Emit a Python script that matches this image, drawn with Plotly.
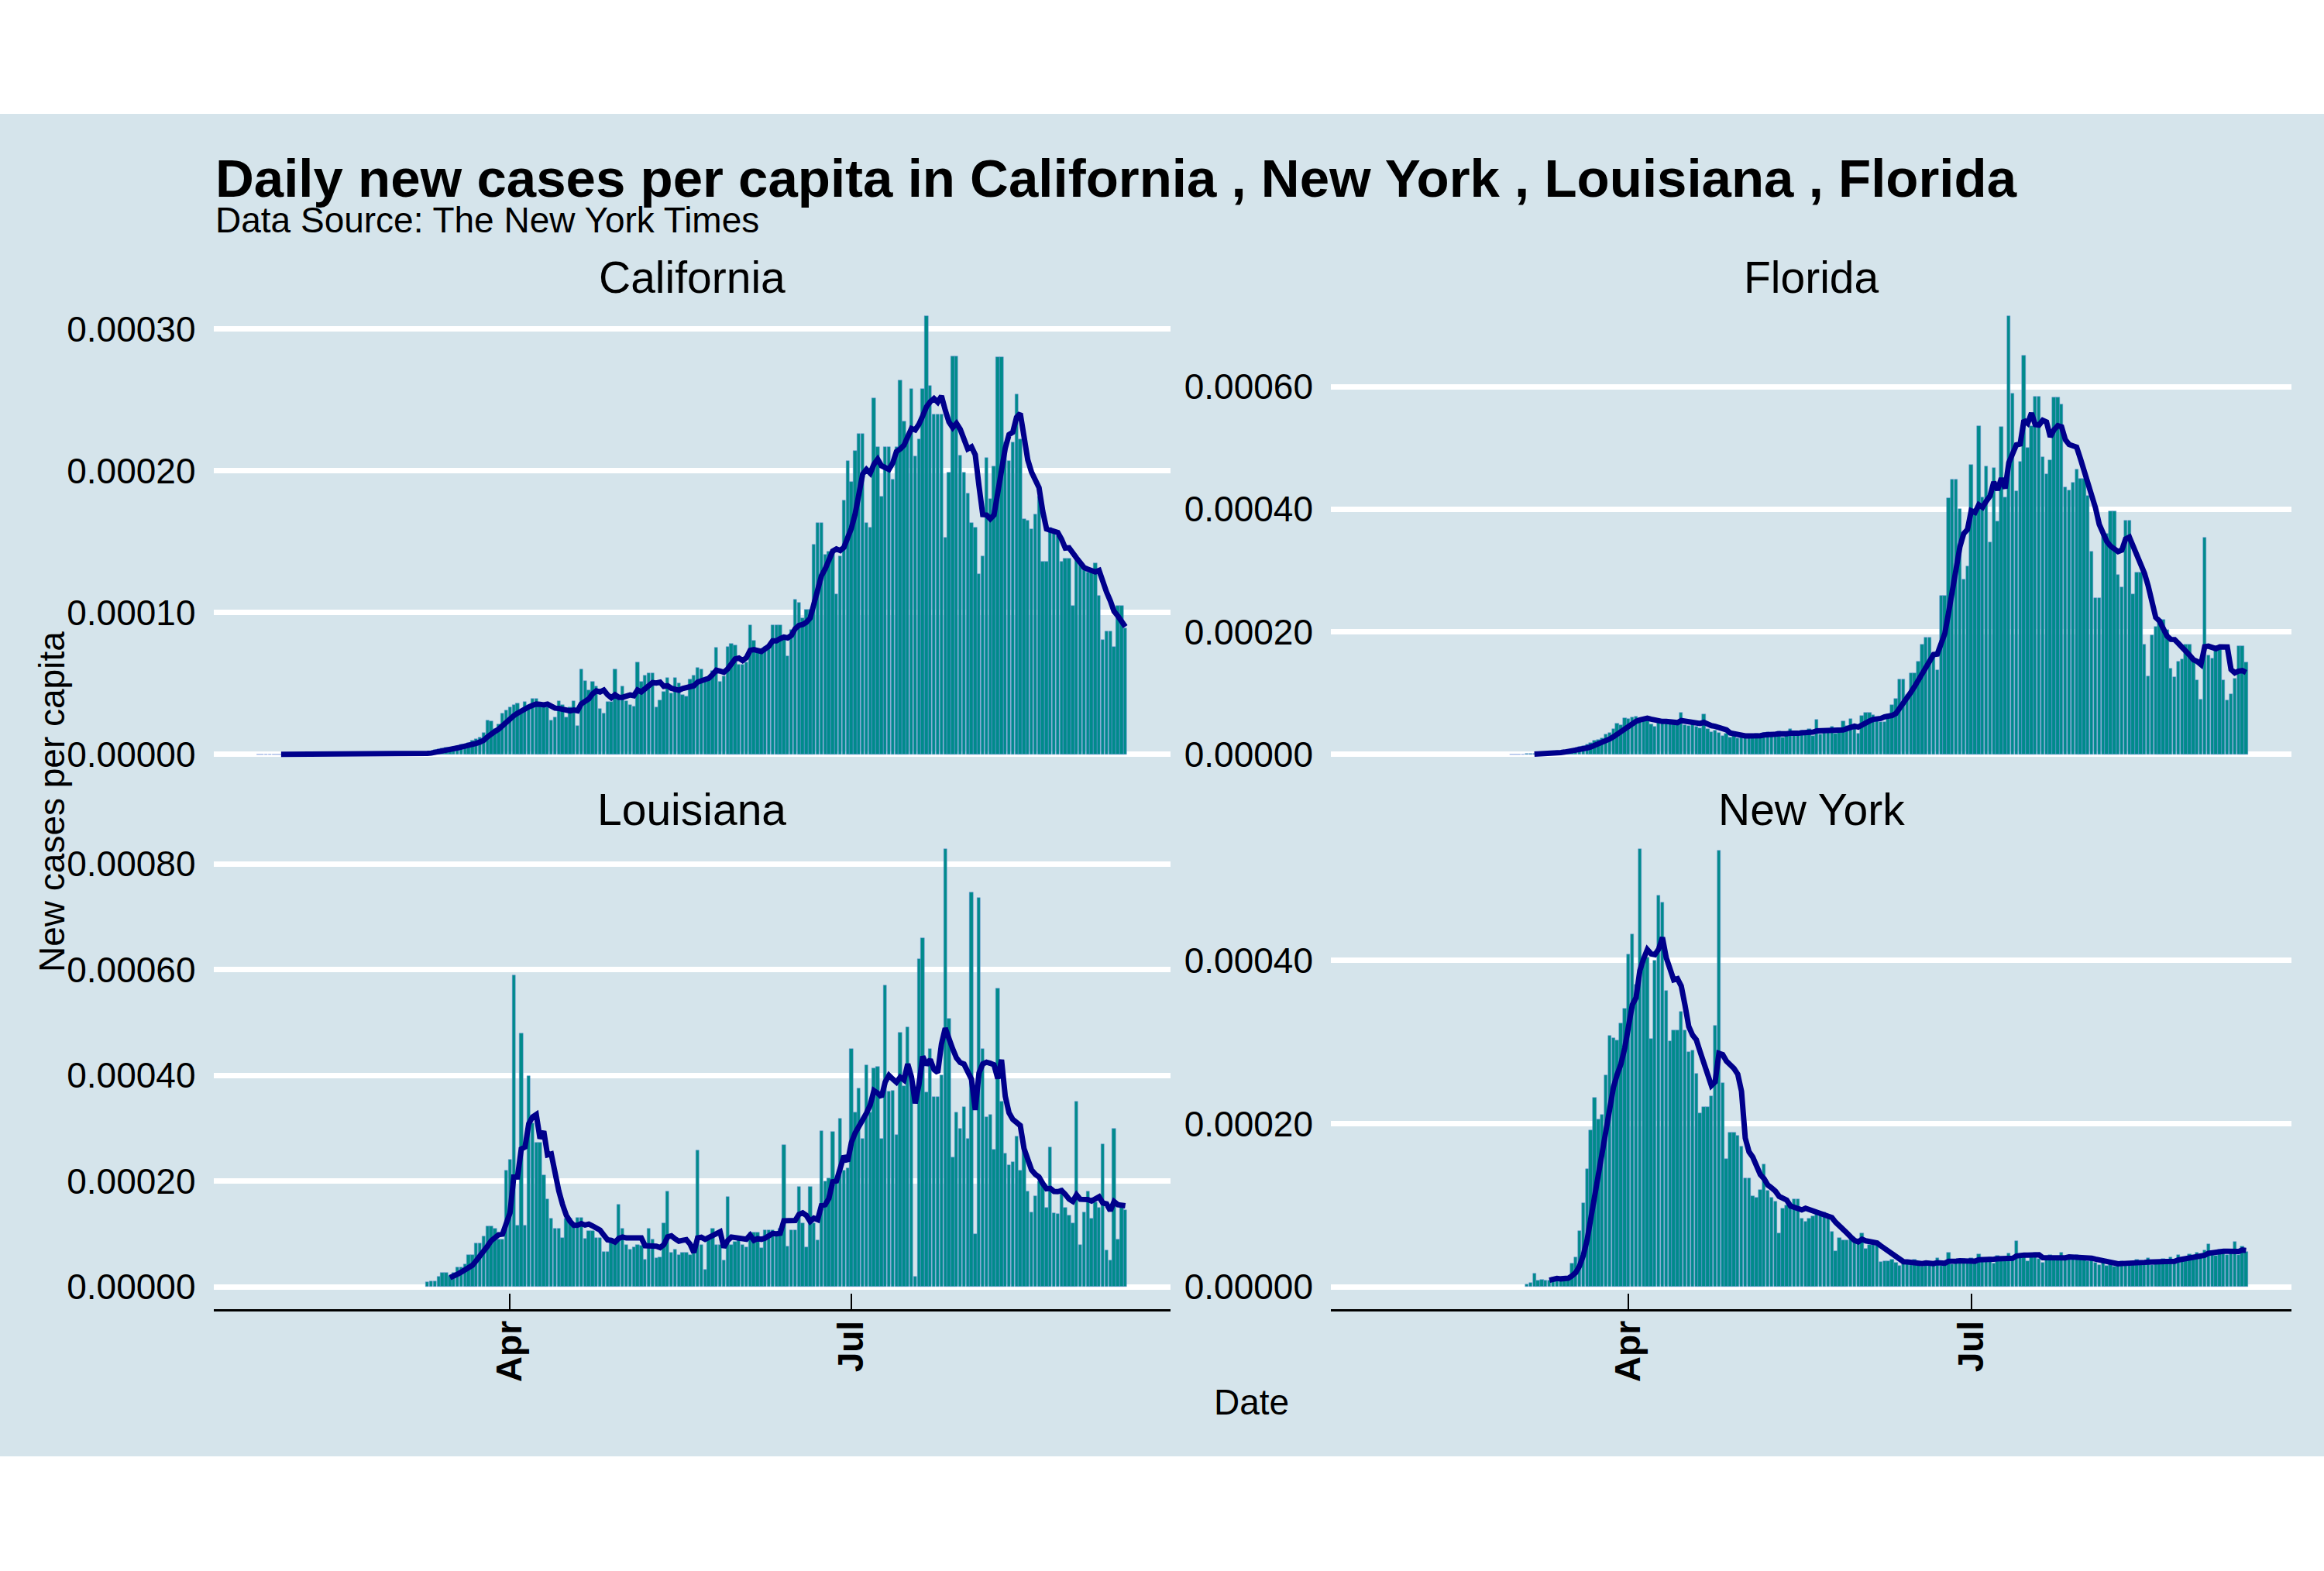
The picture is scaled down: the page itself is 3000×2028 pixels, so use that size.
import numpy as np
import pandas as pd
import plotly.graph_objects as go
from plotly.subplots import make_subplots

# ---------------- data (daily new cases per 100k people) ----------------
ca_start = "2020-01-25"
ca_per_100k = [
    0.003, 0, 0, 0, 0, 0.003, 0, 0, 0, 0,
    0, 0, 0, 0.003, 0, 0, 0, 0, 0, 0.003,
    0, 0, 0, 0, 0, 0, 0, 0, 0.003, 0,
    0.005, 0, 0.003, 0.008, 0.01, 0.005, 0.013, 0.02, 0.018, 0.025,
    0.03, 0.04, 0.05,
    0.07, 0.1, 0.13, 0.2, 0.3, 0.35, 0.4, 0.45, 0.5, 0.55,
    0.6, 0.7, 0.7, 0.8, 0.95, 1.1, 1.2, 1.5, 2.4, 2.35,
    1.8, 2.1, 2.9, 3.1, 3.3, 3.5, 3.6, 2.9, 3.7, 3.3,
    3.9, 3.9, 3.4, 3.3, 3.3, 2.4, 2.6, 3.75, 3.5, 2.6,
    3.3, 3.75, 2.0, 6.0, 5.2, 4.5, 5.1, 4.8, 3.2, 2.9,
    3.7, 3.7, 6.0, 3.85, 4.8, 3.75, 3.5, 3.35, 6.5, 5.1,
    5.55, 5.7, 5.7, 3.3, 3.8, 4.4, 5.4, 4.3, 5.4, 5.0,
    4.2, 4.1, 5.3, 5.55, 6.1, 6.0, 5.1, 5.4, 5.9, 7.5,
    5.1, 5.5, 7.6, 7.8, 7.7,
    6.3, 6.3, 6.5, 9.1, 8.0, 7.3, 7.3, 7.6, 7.6, 9.1,
    9.1, 9.1, 8.1, 6.9, 8.8, 10.9, 10.7, 9.6, 10.2, 10.2,
    14.8, 16.3, 16.3, 14.1, 14.3, 14.3, 11.3, 14.0, 17.9, 20.7,
    19.2, 21.4, 22.6, 22.6, 16.3, 16.0, 25.1, 21.7, 18.2, 21.7,
    21.7, 19.4, 21.7, 26.4, 23.5, 22.4, 25.8, 21.0, 22.2, 25.8,
    30.9, 26.0, 24.0, 24.0, 24.0, 15.3, 19.9, 28.1, 28.1, 21.1,
    19.9, 18.4, 16.3, 16.0, 12.7, 14.0, 20.9, 18.0, 20.3, 28.0,
    28.0, 22.0, 20.7, 22.0, 25.4, 22.2, 16.6, 16.5, 15.9, 16.9,
    18.2, 13.6, 13.6, 16.0, 15.8, 15.4, 13.6, 13.8, 13.8, 10.5,
    14.0, 13.5, 13.0, 12.8, 12.8, 13.5, 11.2, 8.1, 8.7, 8.7,
    7.6, 10.5, 10.5, 8.9,
]

fl_start = "2020-03-01"
fl_per_100k = [
    0.01, 0.01, 0.02, 0.02, 0.03, 0.04, 0.05, 0.1, 0.15, 0.2,
    0.3, 0.35, 0.45, 0.5, 0.6, 0.7, 0.9, 1.0, 1.2, 1.3,
    1.6, 1.8, 2.3, 2.4, 2.6, 3.3, 3.5, 4.1, 5.0, 4.8,
    5.9, 5.8, 6.0, 6.1, 5.6, 5.8, 6.0, 4.9, 4.5, 5.5,
    5.2, 5.6, 5.3, 4.9, 5.2, 6.8, 4.8, 4.6, 5.1, 4.5,
    4.3, 6.5, 4.1, 3.6, 3.9, 3.5, 3.0, 3.4, 2.8, 3.2,
    2.6, 2.8, 3.3, 3.0, 3.2, 3.4, 2.9, 3.5, 3.6, 3.1,
    3.3, 3.7, 2.8, 3.5, 4.2, 3.1, 3.4, 3.9, 3.6, 4.2,
    3.0, 5.6, 3.3, 3.5, 3.8, 4.5, 3.4, 4.0, 5.4, 4.7,
    5.8, 4.4, 3.4, 6.3, 6.8, 6.8, 6.4, 6.0, 5.3, 5.3,
    6.5, 8.1, 9.1, 12.2, 12.2, 9.7, 13.2, 13.2, 15.1, 17.9,
    19.1, 19.1, 16.4, 13.8, 25.9, 25.9, 41.8, 44.9, 44.9, 40.0,
    28.6, 30.7, 47.3, 40.0, 53.6, 42.0, 47.0, 34.6, 46.7, 38.0,
    53.5, 42.0, 71.5, 58.9, 43.0, 47.7, 65.1, 50.0, 53.6, 58.4,
    58.4, 48.5, 45.8, 48.0, 58.2, 58.2, 57.1, 43.6, 43.1, 44.3,
    46.5, 45.0, 45.0, 42.2, 33.1, 25.5, 25.5, 35.9, 36.0, 39.7,
    39.7, 29.3, 27.3, 38.1, 38.1, 26.1, 29.7, 29.7, 17.9, 12.8,
    19.4, 20.8, 22.0, 22.0, 20.3, 14.0, 12.6, 15.1, 15.5, 17.9,
    17.9, 15.1, 12.1, 9.0, 35.4, 16.2, 15.7, 17.2, 17.2, 12.1,
    8.8, 9.8, 12.3, 17.7, 17.7, 15.0,
]

la_start = "2020-03-10"
la_per_100k = [
    0.9, 1.0, 1.0, 1.9, 2.7, 2.7, 2.1, 2.7, 3.75, 3.75,
    4.3, 6.0, 6.0, 8.3, 8.3, 9.6, 11.5, 11.5, 11.0, 9.0,
    9.0, 22.0, 24.0, 59.0, 11.6, 48.0, 11.6, 39.9, 30.9, 27.3,
    27.3, 21.1, 16.6, 12.9, 11.0, 11.0, 9.3, 13.0, 13.0, 11.3,
    13.1, 13.1, 9.1, 10.6, 10.6, 9.3, 9.3, 6.7, 6.7, 8.4,
    8.4, 15.6, 11.0, 8.0, 7.0, 7.5, 8.0, 7.8, 5.2, 11.0,
    9.0, 5.4, 5.6, 12.0, 18.1, 6.5, 7.0, 6.0, 6.5, 6.5,
    6.0, 7.0, 25.8, 8.0, 3.2, 9.0, 11.0, 8.0, 8.0, 5.0,
    17.0, 8.0, 8.5, 9.1, 8.0, 7.5, 10.3, 10.3, 10.3, 7.4,
    10.8, 10.8, 10.8, 9.9, 11.0, 26.9, 7.7, 10.8, 10.8, 18.9,
    12.0, 7.5, 19.0, 12.0, 8.8, 29.5, 20.0, 20.5, 29.4, 20.0,
    31.9, 22.0, 22.5, 45.0, 33.0, 37.5, 28.0, 42.0, 33.0, 41.4,
    41.7, 28.0, 57.1, 37.0, 37.1, 28.7, 48.1, 38.0, 49.2, 40.0,
    2.0, 62.0, 66.0, 36.8, 45.0, 36.0, 36.0, 40.0, 82.8, 50.8,
    24.5, 33.0, 30.0, 34.0, 28.0, 74.7, 10.0, 73.6, 45.0, 32.2,
    32.6, 26.0, 56.4, 35.0, 25.3, 23.0, 23.6, 28.4, 22.0, 25.9,
    18.0, 14.1, 17.2, 20.0, 19.7, 15.0, 26.4, 14.0, 13.8, 18.6,
    15.0, 13.5, 12.0, 35.1, 8.0, 14.1, 18.0, 13.0, 16.0, 15.0,
    27.0, 6.9, 5.0, 30.0, 9.0, 15.0, 14.5,
]

ny_start = "2020-03-05"
ny_per_100k = [
    0.3, 0.5, 1.6, 0.8, 0.9, 0.8, 0.8, 1.2, 1.2, 1.2,
    1.0, 1.2, 2.9, 3.6, 6.9, 10.3, 14.4, 19.2, 23.2, 20.5,
    21.1, 25.9, 30.8, 30.5, 30.2, 32.3, 34.1, 40.7, 43.2, 37.0,
    53.6, 40.3, 40.3, 30.4, 40.0, 47.9, 47.1, 36.3, 30.1, 31.4,
    31.4, 33.7, 31.4, 28.8, 29.0, 26.1, 21.3, 22.0, 22.0, 23.4,
    32.0, 53.4, 25.0, 15.7, 18.9, 18.9, 18.5, 17.2, 13.3, 13.3,
    11.1, 10.9, 11.9, 15.0, 11.8, 10.9, 10.5, 6.6, 9.6, 10.0,
    10.0, 10.7, 10.7, 8.4, 8.0, 8.4, 8.7, 8.9, 9.1, 9.1,
    8.4, 6.8, 4.4, 6.0, 5.7, 5.7, 5.8, 5.5, 5.5, 6.6,
    4.7, 5.1, 5.1, 5.1, 3.1, 3.2, 3.2, 3.3, 3.0, 2.6,
    3.2, 2.9, 2.7, 3.3, 2.8, 2.5, 3.1, 2.9, 2.7, 3.5,
    2.6, 3.0, 4.2, 2.8, 3.3, 3.0, 3.4, 2.9, 3.5, 3.1,
    4.0, 3.2, 3.4, 3.6, 2.9, 3.8, 3.3, 3.5, 4.1, 3.3,
    5.6, 3.6, 3.9, 3.2, 3.7, 4.2, 3.4, 3.0, 3.5, 3.9,
    3.3, 3.6, 4.2, 3.4, 3.8, 3.5, 3.9, 3.3, 3.6, 3.2,
    3.3, 3.0, 2.7, 3.1, 2.6, 3.0, 2.5, 2.9, 3.2, 2.7,
    3.0, 2.8, 3.3, 2.9, 3.1, 3.5, 2.7, 3.0, 2.9, 3.4,
    3.1, 3.6, 3.2, 3.9, 3.5, 3.4, 4.0, 3.6, 4.2, 3.9,
    4.5, 5.2, 4.1, 3.8, 4.6, 4.4, 3.9, 4.3, 5.5, 3.9,
    5.0, 4.3,
]

states = ["California", "Florida", "Louisiana", "New York"]
starts = [ca_start, fl_start, la_start, ny_start]
values = [ca_per_100k, fl_per_100k, la_per_100k, ny_per_100k]
tick_dates = ["2020-04-01", "2020-07-01"]
tick_labels = ["Apr", "Jul"]
y_steps = [0.0001, 0.0002, 0.0002, 0.0002]

title_text = "Daily new cases per capita in California , New York , Louisiana , Florida"
subtitle_text = "Data Source: The New York Times"

# ---------------- styling / layout ----------------
W, H = 3000, 2028
BG = "#d5e4eb"
BAR = "#008b8b"
BAR_EDGE = "#6a8fd8"
LINE = "#00008b"
FONT = "Liberation Sans, Arial, sans-serif"

def px(x):
    return x / W

def py(y):
    return 1 - y / H

col_x = [(275.5, 1511.0), (1718.0, 2958.0)]
row_y = [(380.0, 1002.0), (1068.0, 1689.5)]

fig = make_subplots(rows=2, cols=2)

series = []
for st, v in zip(starts, values):
    d = pd.date_range(st, periods=len(v), freq="D")
    y = np.array(v, dtype=float) / 1e5
    avg = pd.Series(y).rolling(7).mean().to_numpy()
    series.append((d, y, avg))

all_first = min(s[0][0] for s in series)
all_last = max(s[0][-1] for s in series)
xmin = all_first - pd.Timedelta(hours=0.45 * 24)
xmax = all_last + pd.Timedelta(hours=0.45 * 24)
pad = (xmax - xmin) * 0.05
xrange_ = [xmin - pad, xmax + pad]

for i, (name, (d, y, avg)) in enumerate(zip(states, series)):
    r, c = i // 2 + 1, i % 2 + 1
    fig.add_trace(go.Bar(x=d, y=y, width=0.9 * 86400000,
                         marker=dict(color=BAR, line=dict(width=0.5, color=BAR_EDGE)),
                         showlegend=False), row=r, col=c)
    fig.add_trace(go.Scatter(x=d, y=avg, mode="lines",
                             line=dict(color=LINE, width=7),
                             showlegend=False), row=r, col=c)
    ymax = max(np.nanmax(y), np.nanmax(avg))
    fig.update_yaxes(range=[-0.05 * ymax, 1.05 * ymax], dtick=y_steps[i], tick0=0,
                     tickformat=".5f", showgrid=True, gridcolor="white", gridwidth=7,
                     zeroline=False, showline=False, ticks="",
                     tickfont=dict(size=46, color="black", family=FONT),
                     ticklabelstandoff=22,
                     domain=[py(row_y[r - 1][1]), py(row_y[r - 1][0])],
                     row=r, col=c)
    xa = dict(type="date", range=xrange_, showgrid=False, zeroline=False,
              domain=[px(col_x[c - 1][0]), px(col_x[c - 1][1])])
    if r == 2:
        xa.update(showline=True, linecolor="black", linewidth=3,
                  ticks="inside", ticklen=20, tickwidth=2, tickcolor="black",
                  tickvals=tick_dates, ticktext=["<b>%s</b>" % t for t in tick_labels],
                  tickangle=-90, tickfont=dict(size=46, color="black", family=FONT),
                  ticklabelstandoff=-6)
    else:
        xa.update(showline=False, ticks="", showticklabels=False)
    fig.update_xaxes(**xa, row=r, col=c)

annotations = [
    dict(text="<b>%s</b>" % title_text, x=px(275.5), y=py(230.5), xanchor="left",
         yanchor="middle", font=dict(size=69, color="black", family=FONT)),
    dict(text=subtitle_text, x=px(275.5), y=py(284), xanchor="left", yanchor="middle",
         font=dict(size=46, color="black", family=FONT)),
    dict(text="New cases per capita", x=px(67), y=py(1035), textangle=-90,
         xanchor="center", yanchor="middle", font=dict(size=46, color="black", family=FONT)),
    dict(text="Date", x=px(1616), y=py(1810), xanchor="center", yanchor="middle",
         font=dict(size=46, color="black", family=FONT)),
]
strip_y = [357.8, 1044.6]
for i, name in enumerate(states):
    r, c = i // 2, i % 2
    annotations.append(dict(text=name, x=px((col_x[c][0] + col_x[c][1]) / 2), y=py(strip_y[r]),
                            xanchor="center", yanchor="middle",
                            font=dict(size=57, color="black", family=FONT)))
for a in annotations:
    a.update(xref="paper", yref="paper", showarrow=False)

fig.update_layout(
    width=W, height=H, margin=dict(l=0, r=0, t=0, b=0, pad=0),
    paper_bgcolor="white", plot_bgcolor=BG,
    font=dict(family=FONT, color="black"),
    showlegend=False, bargap=0,
    annotations=annotations,
    shapes=[dict(type="rect", xref="paper", yref="paper", x0=0, x1=1,
                 y0=py(1880), y1=py(147), fillcolor=BG, line=dict(width=0), layer="below")],
)

fig.write_html("out.html")
